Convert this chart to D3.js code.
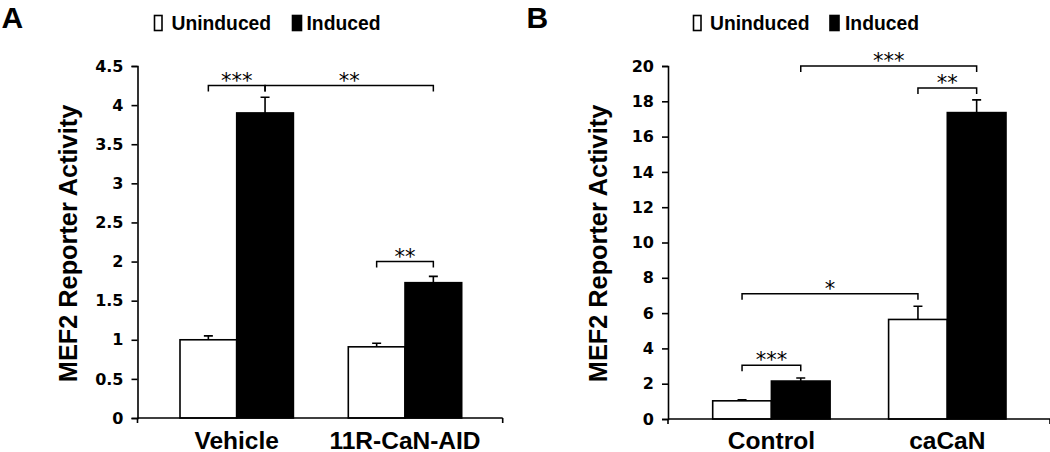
<!DOCTYPE html>
<html><head><meta charset="utf-8">
<script src="https://cdn.jsdelivr.net/npm/d3@7"></script>
<style>body{margin:0;background:#fff}svg{display:block}</style>
</head><body><svg id="c" width="1050" height="452"></svg>
<script>
// ---- data ----
const seriesNames = ["Uninduced", "Induced"];
const groupsA = ["Vehicle", "11R-CaN-AID"];
const uninducedA = [1.0, 0.91];
const inducedA = [3.9, 1.73];
const uninducedErrA = [0.05, 0.045];
const inducedErrA = [0.2, 0.08];
const ticksA = [0, 0.5, 1, 1.5, 2, 2.5, 3, 3.5, 4, 4.5];
const bracketsA = [
  {g1: 0, s1: 0, g2: 0, s2: 1, y: 4.25, label: "***"},
  {g1: 0, s1: 1, g2: 1, s2: 1, y: 4.25, label: "**"},
  {g1: 1, s1: 0, g2: 1, s2: 1, y: 2.0, label: "**"}
];

const groupsB = ["Control", "caCaN"];
const uninducedB = [1.03, 5.64];
const inducedB = [2.15, 17.36];
const uninducedErrB = [0.06, 0.75];
const inducedErrB = [0.17, 0.72];
const ticksB = [0, 2, 4, 6, 8, 10, 12, 14, 16, 18, 20];
const bracketsB = [
  {g1: 0, s1: 1, g2: 1, s2: 1, y: 20, label: "***"},
  {g1: 1, s1: 0, g2: 1, s2: 1, y: 18.75, label: "**"},
  {g1: 0, s1: 0, g2: 1, s2: 0, y: 7.1, label: "*"},
  {g1: 0, s1: 0, g2: 0, s2: 1, y: 3.05, label: "***"}
];
const yTitle = "MEF2 Reporter Activity";

// ---- drawing ----
const svg = d3.select("#c");
const fills = ["#ffffff", "#000000"];

function panel(cfg) {
  const g = svg.append("g");
  const y = d3.scaleLinear().domain([cfg.ticks[0], cfg.ticks[cfg.ticks.length - 1]]).range([cfg.y0, cfg.yTop]);
  const xg = d3.scalePoint().domain(cfg.groups).range(cfg.centers);
  const xs = d3.scaleBand().domain(seriesNames).range([-cfg.bw, cfg.bw]).padding(0);
  const vals = [cfg.unind, cfg.ind];
  const errs = [cfg.unErr, cfg.inErr];
  const barX = (gi, si) => xg(cfg.groups[gi]) + xs(seriesNames[si]);
  const barC = (gi, si) => barX(gi, si) + xs.bandwidth() / 2;

  // bars
  const data = [];
  cfg.groups.forEach((gn, gi) => seriesNames.forEach((sn, si) => data.push({gi, si, v: vals[si][gi], e: errs[si][gi]})));
  g.selectAll("rect.bar").data(data).enter().append("rect")
    .attr("x", d => barX(d.gi, d.si)).attr("width", xs.bandwidth())
    .attr("y", d => y(d.v)).attr("height", d => y(0) - y(d.v))
    .attr("fill", d => fills[d.si]).attr("stroke", "#000").attr("stroke-width", 1.6);
  // error bars
  g.selectAll("path.err").data(data).enter().append("path")
    .attr("d", d => {
      const c = barC(d.gi, d.si), t = y(d.v + d.e);
      return `M${c},${y(d.v)}V${t}M${c - 4.5},${t}H${c + 4.5}`;
    })
    .attr("fill", "none").attr("stroke", "#000").attr("stroke-width", 1.6);

  // y axis
  const ax = g.append("g").attr("transform", `translate(${cfg.axisX},0)`)
    .call(d3.axisLeft(y).tickValues(cfg.ticks).tickSize(6).tickSizeOuter(6).tickPadding(8).tickFormat(d => String(d)));
  ax.select(".domain").attr("stroke-width", 1.6);
  ax.selectAll(".tick line").attr("stroke-width", 1.6);
  ax.selectAll(".tick text").attr("font-family", "DejaVu Sans").attr("font-weight", "bold").attr("font-size", 16).attr("fill", "#000");
  // x axis line
  g.append("path").attr("d", `M${cfg.axisX},${y(0)}H${cfg.xEnd}M${cfg.axisX},${y(0)}V${y(0) + 5}M${cfg.xEnd},${y(0)}V${y(0) + 5}`)
    .attr("stroke", "#000").attr("stroke-width", 1.6).attr("fill", "none");
  // category labels
  g.selectAll("text.cat").data(cfg.groups).enter().append("text")
    .attr("x", d => xg(d)).attr("y", 448.5).attr("text-anchor", "middle")
    .attr("font-family", "Liberation Sans, Arial, sans-serif").attr("font-weight", "bold").attr("font-size", 24.5)
    .text(d => d);
  // y title
  g.append("text").attr("transform", `translate(${cfg.titleX},243.5) rotate(-90)`).attr("text-anchor", "middle")
    .attr("font-family", "Liberation Sans, Arial, sans-serif").attr("font-weight", "bold").attr("font-size", 25.3)
    .text(yTitle);
  // brackets
  cfg.brackets.forEach(b => {
    const x1 = barC(b.g1, b.s1), x2 = barC(b.g2, b.s2), by = y(b.y);
    g.append("path").attr("d", `M${x1},${by + 6}V${by}H${x2}V${by + 6}`)
      .attr("fill", "none").attr("stroke", "#000").attr("stroke-width", 1.5);
    g.append("text").attr("x", (x1 + x2) / 2).attr("y", by + 2).attr("text-anchor", "middle")
      .attr("font-family", "DejaVu Sans").attr("font-size", 21).text(b.label);
  });
  // legend
  const lg = g.append("g");
  seriesNames.forEach((sn, si) => {
    lg.append("rect").attr("x", cfg.legBox[si]).attr("y", 15.5).attr("width", si ? 9 : 7.5).attr("height", 15)
      .attr("fill", fills[si]).attr("stroke", "#000").attr("stroke-width", 1.6);
    lg.append("text").attr("x", cfg.legText[si]).attr("y", 30).attr("font-family", "Liberation Sans, Arial, sans-serif")
      .attr("font-weight", "bold").attr("font-size", 19.3).text(sn);
  });
  // panel letter
  g.append("text").attr("x", cfg.letterX).attr("y", 27.5).attr("font-family", "Liberation Sans, Arial, sans-serif")
    .attr("font-weight", "bold").attr("font-size", 30).text(cfg.letter);
}

panel({letter: "A", letterX: 1.5, groups: groupsA, unind: uninducedA, ind: inducedA, unErr: uninducedErrA, inErr: inducedErrA,
  ticks: ticksA, brackets: bracketsA, y0: 418, yTop: 66, centers: [236.7, 405], bw: 56.7, axisX: 137.5, xEnd: 502.7,
  titleX: 77, legBox: [154.5, 292.5], legText: [171.5, 306.5]});
panel({letter: "B", letterX: 526.5, groups: groupsB, unind: uninducedB, ind: inducedB, unErr: uninducedErrB, inErr: inducedErrB,
  ticks: ticksB, brackets: bracketsB, y0: 419, yTop: 66, centers: [771.4, 947.3], bw: 58.7, axisX: 668, xEnd: 1050,
  titleX: 607, legBox: [693.5, 830], legText: [710, 845]});
</script></body></html>
